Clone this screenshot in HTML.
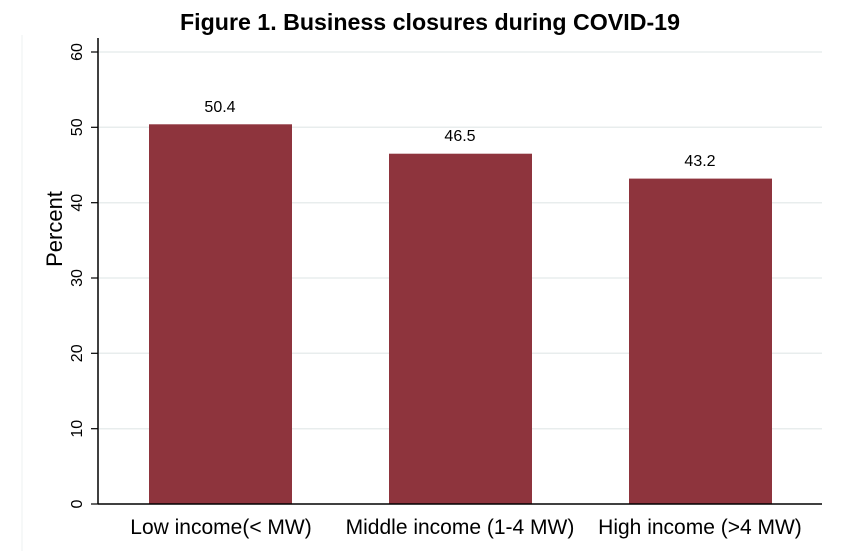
<!DOCTYPE html>
<html><head><meta charset="utf-8"><style>
html,body{margin:0;padding:0;background:#fff}
svg{display:block}
text{font-family:"Liberation Sans",Arial,sans-serif;fill:#000}
</style></head><body>
<svg width="849" height="551" viewBox="0 0 849 551" xmlns="http://www.w3.org/2000/svg">
<rect width="849" height="551" fill="#fff"/>
<line x1="22" y1="35" x2="22" y2="551" stroke="#eef0f0" stroke-width="1"/>
<text x="430" y="30" font-size="23.2" font-weight="bold" text-anchor="middle">Figure 1. Business closures during COVID-19</text>
<g stroke="#e8eded" stroke-width="1.5">
<line x1="99" y1="52" x2="822" y2="52"/>
<line x1="99" y1="127.3" x2="822" y2="127.3"/>
<line x1="99" y1="202.7" x2="822" y2="202.7"/>
<line x1="99" y1="278" x2="822" y2="278"/>
<line x1="99" y1="353.3" x2="822" y2="353.3"/>
<line x1="99" y1="428.7" x2="822" y2="428.7"/>
</g>
<g fill="#8e343d">
<rect x="149" y="124.3" width="143" height="379.7"/>
<rect x="389" y="153.7" width="143" height="350.3"/>
<rect x="629" y="178.6" width="143" height="325.4"/>
</g>
<g font-size="16" text-anchor="middle">
<text x="220" y="112">50.4</text>
<text x="460" y="141">46.5</text>
<text x="700" y="166">43.2</text>
</g>
<line x1="98" y1="38" x2="98" y2="504.5" stroke="#000" stroke-width="1.5"/>
<line x1="98" y1="504" x2="822" y2="504" stroke="#000" stroke-width="1.5"/>
<g stroke="#000" stroke-width="1.2">
<line x1="91" y1="52" x2="98" y2="52"/>
<line x1="91" y1="127.3" x2="98" y2="127.3"/>
<line x1="91" y1="202.7" x2="98" y2="202.7"/>
<line x1="91" y1="278" x2="98" y2="278"/>
<line x1="91" y1="353.3" x2="98" y2="353.3"/>
<line x1="91" y1="428.7" x2="98" y2="428.7"/>
<line x1="91" y1="504" x2="98" y2="504"/>
</g>
<g font-size="16" text-anchor="middle">
<text transform="translate(82,52) rotate(-90)">60</text>
<text transform="translate(82,127.3) rotate(-90)">50</text>
<text transform="translate(82,202.7) rotate(-90)">40</text>
<text transform="translate(82,278) rotate(-90)">30</text>
<text transform="translate(82,353.3) rotate(-90)">20</text>
<text transform="translate(82,428.7) rotate(-90)">10</text>
<text transform="translate(82,504) rotate(-90)">0</text>
</g>
<text transform="translate(62,229) rotate(-90)" font-size="22" text-anchor="middle">Percent</text>
<g font-size="21" text-anchor="middle">
<text x="221" y="534">Low income(&lt; MW)</text>
<text x="460" y="534">Middle income (1-4 MW)</text>
<text x="700" y="534">High income (&gt;4 MW)</text>
</g>
</svg>
</body></html>
